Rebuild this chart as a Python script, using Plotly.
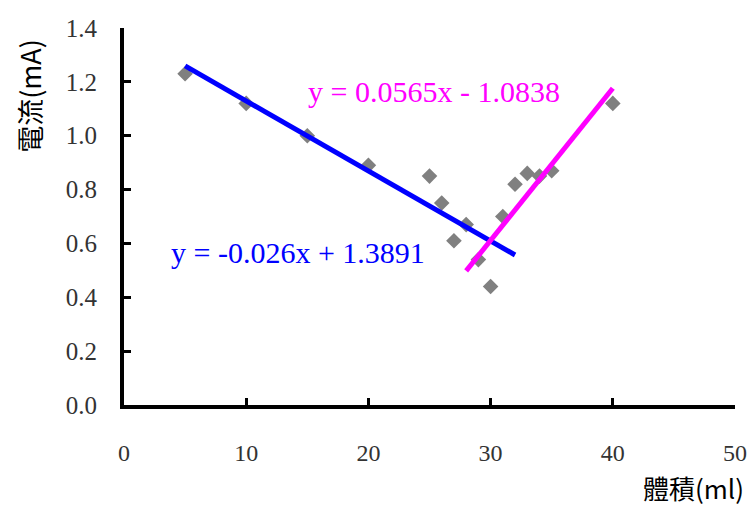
import plotly.graph_objects as go

# Measured current versus volume
volume = [5, 10, 15, 20, 25, 26, 27, 28, 29, 30, 31, 32, 33, 34, 35, 40]
current = [1.23, 1.12, 1.00, 0.89, 0.85, 0.75, 0.61, 0.67, 0.54, 0.44,
           0.70, 0.82, 0.86, 0.85, 0.87, 1.12]

# Linear fits for the two regimes
fit1_slope, fit1_icpt, fit1_x = -0.026, 1.3891, [5, 32]
fit2_slope, fit2_icpt, fit2_x = 0.0565, -1.0838, [28, 40]

x_ticks = [0, 10, 20, 30, 40, 50]
y_ticks = [0.0, 0.2, 0.4, 0.6, 0.8, 1.0, 1.2, 1.4]

SERIF = "Liberation Serif, Times New Roman, serif"
CJK = "Noto Sans CJK TC, Liberation Serif, serif"

fig = go.Figure()

fig.add_trace(go.Scatter(
    x=volume, y=current, mode="markers",
    marker=dict(symbol="diamond", size=12, color="#808080"),
    showlegend=False, cliponaxis=False,
))

fig.add_trace(go.Scatter(
    x=fit1_x, y=[fit1_slope * x + fit1_icpt for x in fit1_x],
    mode="lines", line=dict(color="#0000ff", width=5),
    showlegend=False,
))
fig.add_trace(go.Scatter(
    x=fit2_x, y=[fit2_slope * x + fit2_icpt for x in fit2_x],
    mode="lines", line=dict(color="#ff00ff", width=5),
    showlegend=False,
))

fig.add_annotation(
    x=3.7, y=0.567, xref="x", yref="y", xanchor="left", yanchor="middle",
    text="y = -0.026x + 1.3891", showarrow=False,
    font=dict(family=SERIF, size=30, color="#0000ff"),
)
fig.add_annotation(
    x=14.9, y=1.163, xref="x", yref="y", xanchor="left", yanchor="middle",
    text="y = 0.0565x - 1.0838", showarrow=False,
    font=dict(family=SERIF, size=30, color="#ff00ff"),
)

# Axis titles
fig.add_annotation(
    x=1.0, y=-0.272, xref="paper", yref="paper", xanchor="right", yanchor="bottom",
    xshift=11,
    text="體積(ml)", showarrow=False,
    font=dict(family=CJK, size=26, color="#000000"),
)
fig.add_annotation(
    x=0, y=0.82, xref="paper", yref="paper", xanchor="center", yanchor="middle",
    xshift=-94,
    text="電流(mA)", textangle=-90, showarrow=False,
    font=dict(family=CJK, size=27, color="#000000"),
)

fig.update_xaxes(
    range=[0, 50], tickvals=x_ticks, ticktext=[str(v) for v in x_ticks],
    showgrid=False, zeroline=False, showline=True, linecolor="black", linewidth=4,
    ticks="inside", ticklen=7, tickwidth=3, tickcolor="black",
    ticklabelstandoff=23, automargin=False,
    tickfont=dict(family=SERIF, size=24, color="#333333"),
)
fig.update_yaxes(
    range=[0, 1.4], tickvals=y_ticks, ticktext=[f"{v:.1f}" for v in y_ticks],
    showgrid=False, zeroline=False, showline=True, linecolor="black", linewidth=4,
    ticks="inside", ticklen=7, tickwidth=3, tickcolor="black",
    ticklabelstandoff=18, automargin=False,
    tickfont=dict(family=SERIF, size=25, color="#333333"),
)

fig.update_layout(
    width=748, height=508,
    margin=dict(l=124, r=13, t=28, b=103),
    plot_bgcolor="white", paper_bgcolor="white",
)

fig.write_html("out.html")
